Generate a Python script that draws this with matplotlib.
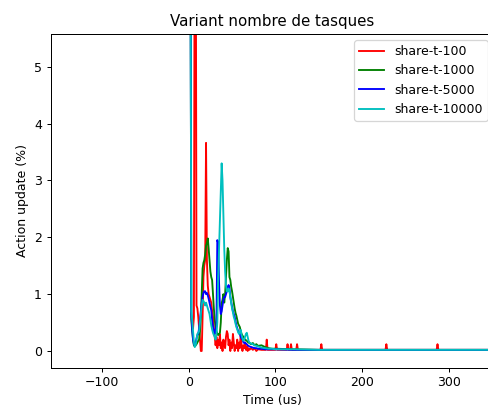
import matplotlib
matplotlib.use("Agg")
import matplotlib.pyplot as plt

labels = ["share-t-100", "share-t-1000", "share-t-5000", "share-t-10000"]
colors = ["r", "g", "b", "c"]

# shared time grid for the smoother series (us)
t_common = list(range(2, 71)) + [72, 74, 76, 78, 80, 84, 88, 92, 96, 100,
                                 120, 150, 200, 250, 300, 350, 400]

y_1000 = [8.0, 0.55, 0.35, 0.20, 0.10, 0.08, 0.10, 0.12, 0.15, 0.18,
          0.20, 0.35, 0.60, 1.00, 1.45, 1.55, 1.60, 1.70, 1.85, 1.90,
          1.98, 1.80, 1.60, 1.40, 1.30, 1.25, 1.00, 0.75, 0.55, 0.42,
          0.35, 0.30, 0.28, 0.30, 0.32, 0.50, 0.84, 0.90, 1.00, 0.85,
          1.00, 1.30, 1.60, 1.81, 1.75, 1.30, 1.25, 1.13, 1.05, 0.95,
          0.85, 0.75, 0.67, 0.62, 0.55, 0.48, 0.45, 0.42, 0.35, 0.30,
          0.27, 0.25, 0.22, 0.20, 0.19, 0.18, 0.16, 0.15, 0.14,
          0.12, 0.14, 0.10, 0.12, 0.09, 0.10, 0.07, 0.05, 0.04, 0.04,
          0.03, 0.02, 0.02, 0.02, 0.02, 0.02, 0.02]

y_5000 = [8.0, 0.65, 0.40, 0.20, 0.12, 0.10, 0.15, 0.22, 0.28, 0.30,
          0.40, 0.55, 0.70, 0.85, 0.95, 1.02, 1.05, 1.05, 1.00, 1.02,
          0.98, 0.92, 0.85, 0.78, 0.72, 0.55, 0.43, 0.35, 0.30, 0.38,
          0.45, 1.95, 1.90, 1.20, 0.80, 0.65, 0.70, 0.80, 0.90, 0.95,
          0.95, 1.00, 1.05, 1.12, 1.16, 1.10, 0.95, 0.86, 0.78, 0.70,
          0.65, 0.60, 0.52, 0.45, 0.40, 0.35, 0.32, 0.30, 0.25, 0.22,
          0.20, 0.16, 0.14, 0.15, 0.13, 0.12, 0.10, 0.09, 0.08,
          0.07, 0.06, 0.05, 0.05, 0.04, 0.04, 0.03, 0.03, 0.03, 0.03,
          0.02, 0.02, 0.02, 0.02, 0.02, 0.02, 0.02]

y_10000 = [8.0, 0.70, 0.55, 0.35, 0.15, 0.07, 0.10, 0.20, 0.30, 0.32,
           0.35, 0.50, 0.65, 0.80, 0.90, 0.88, 0.85, 0.80, 0.85, 0.80,
           0.75, 0.70, 0.65, 0.55, 0.45, 0.38, 0.32, 0.28, 0.25, 0.20,
           0.30, 0.50, 1.30, 1.80, 2.30, 2.80, 3.30, 3.00, 2.40, 1.80,
           1.40, 1.15, 1.05, 1.05, 1.10, 1.05, 0.95, 0.85, 0.75, 0.68,
           0.60, 0.55, 0.48, 0.42, 0.38, 0.33, 0.30, 0.33, 0.37, 0.28,
           0.22, 0.18, 0.20, 0.25, 0.30, 0.32, 0.25, 0.18, 0.15,
           0.13, 0.12, 0.10, 0.09, 0.08, 0.06, 0.05, 0.04, 0.04, 0.03,
           0.03, 0.02, 0.02, 0.02, 0.02, 0.02, 0.02]

# share-t-100 has its own time grid (noisy, sparse spikes in the tail)
t_100 = list(range(5, 71)) + [72, 74, 76, 78, 80, 84, 89, 90, 91, 100, 101, 102,
                              113, 114, 115, 117, 118, 119, 124, 125, 126,
                              152, 153, 154, 227, 228, 229, 286, 287, 288, 400]
y_100 = [0.40, 0.60, 9.0, 9.0, 0.80, 0.75, 0.60, 0.40, 0.20, 0.00,
         0.00, 0.60, 1.30, 1.50, 1.60, 3.66, 1.60, 1.15, 1.00, 0.95,
         0.90, 0.85, 0.70, 0.60, 0.40, 0.25, 0.10, 0.25, 0.05, 0.20,
         0.10, 0.30, 0.05, 0.15, 0.00, 0.20, 0.10, 0.05, 0.25, 0.35,
         0.30, 0.10, 0.20, 0.00, 0.15, 0.05, 0.30, 0.15, 0.00, 0.10,
         0.05, 0.20, 0.00, 0.15, 0.05, 0.30, 0.10, 0.00, 0.10, 0.05,
         0.15, 0.02, 0.08, 0.00, 0.05, 0.02,
         0.05, 0.02, 0.05, 0.00, 0.03, 0.02, 0.02, 0.20, 0.02, 0.02, 0.12, 0.02,
         0.02, 0.12, 0.02, 0.02, 0.12, 0.02, 0.02, 0.12, 0.02,
         0.02, 0.12, 0.02, 0.02, 0.12, 0.02, 0.02, 0.12, 0.02, 0.02]

series_t = [t_100, t_common, t_common, t_common]
series_y = [y_100, y_1000, y_5000, y_10000]

DPI = 90
fig = plt.figure(figsize=(488 / DPI, 406 / DPI), dpi=DPI)
ax = fig.add_axes([0.1039, 0.0943, 0.9088, 0.822])
for t, y, c, lab in zip(series_t, series_y, colors, labels):
    ax.plot(t, y, color=c, label=lab)

ax.set_xlim(-159.2, 352.4)
ax.set_ylim(-0.294, 5.575)
ax.set_title("Variant nombre de tasques")
ax.set_xlabel("Time (us)")
ax.set_ylabel("Action update (%)")
ax.legend(loc="upper right")
fig.savefig("out.png", dpi=DPI)
